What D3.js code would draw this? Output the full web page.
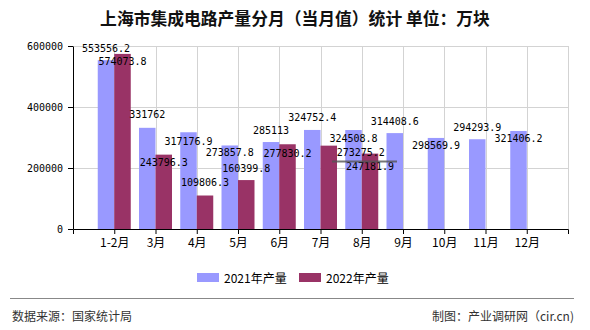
<!DOCTYPE html>
<html>
<head>
<meta charset="utf-8">
<script src="https://cdn.jsdelivr.net/npm/d3@7"></script>
<style>
html,body{margin:0;padding:0;background:#fff;}
svg{display:block;}
</style>
</head>
<body>
<svg id="chart" width="590" height="330"></svg>
<script>
// ---- data ----
const categories = ["1-2月","3月","4月","5月","6月","7月","8月","9月","10月","11月","12月"];
const values2021 = [553556.2, 331762, 317176.9, 273857.8, 285113, 324752.4, 324508.8, 314408.6, 298569.9, 294293.9, 321406.2];
const values2022 = [574073.8, 243796.3, 109806.3, 160399.8, 277830.2, 273275.2, 247181.9];
const seriesNames = ["2021年产量","2022年产量"];
const yTicks = [0, 200000, 400000, 600000];
// label placement offsets (vertical, relative to bar top; horizontal shift)
const labelDy2021 = [-12,-13,9,7,-12,-12,8,-12,8,-12,8];
const labelDy2022 = [8,8,-13,-12,9,7,13];
const labelDx2022 = [0,0,0,0,0,32,0];

(function(){
const colors = ["#9999ff", "#993366"];
const svg = d3.select("#chart");
const pL = 73, pR = 568, pT = 46, pB = 229;

const x = d3.scalePoint().domain(categories).range([pL, pR]).padding(1);
const y = d3.scaleLinear().domain([0, 600000]).range([pB, pT]);
const bw = 16.5;

// title
svg.append("text").attr("x", 295).attr("y", 18).attr("text-anchor","middle")
  .attr("dominant-baseline","central")
  .style("font-family","'Noto Sans CJK SC', sans-serif").style("font-size","16.8px").style("font-weight","bold")
  .attr("fill","#111")
  .text("上海市集成电路产量分月（当月值）统计 单位：万块");

// grid
const grid = svg.append("g").attr("stroke","#d3d3d3").attr("stroke-width",1);
yTicks.filter(d => d > 0).forEach(t => {
  grid.append("line").attr("x1", pL).attr("x2", pR).attr("y1", Math.round(y(t))+0.5).attr("y2", Math.round(y(t))+0.5);
});
categories.map(c => x(c)).concat([pR]).forEach(px => {
  grid.append("line").attr("x1", Math.round(px)+0.5).attr("x2", Math.round(px)+0.5).attr("y1", pT).attr("y2", pB);
});

// bars
svg.append("g").selectAll("rect").data(values2021).join("rect")
  .attr("x", (d,i) => x(categories[i]) - bw).attr("width", bw)
  .attr("y", d => y(d)).attr("height", d => pB - y(d)).attr("fill", colors[0]);
svg.append("g").selectAll("rect").data(values2022).join("rect")
  .attr("x", (d,i) => x(categories[i])).attr("width", bw)
  .attr("y", d => y(d)).attr("height", d => pB - y(d)).attr("fill", colors[1]);

// axes
const fontNum = "'DejaVu Sans Mono', monospace";
const yAxis = svg.append("g").attr("transform", `translate(${pL},0)`)
  .call(d3.axisLeft(y).tickValues(yTicks).tickFormat(d3.format("d")).tickSize(5).tickSizeOuter(0).tickPadding(5));
yAxis.selectAll("text").style("font-family", fontNum).style("font-size","10px").attr("fill","#000");
yAxis.selectAll("line,path").attr("stroke","#000");

const xAxis = svg.append("g").attr("transform", `translate(0,${pB})`)
  .call(d3.axisBottom(x).tickSize(5).tickSizeOuter(5).tickPadding(4));
xAxis.selectAll("text").style("font-family","'Noto Sans CJK SC', sans-serif").style("font-size","12px").attr("fill","#000");
xAxis.selectAll("line,path").attr("stroke","#000");

// value labels
const lab = svg.append("g").style("font-family", fontNum).style("font-size","10px").attr("fill","#000")
  .attr("text-anchor","middle").attr("dominant-baseline","central");
values2021.forEach((v,i) => {
  lab.append("text").attr("x", x(categories[i]) - bw/2).attr("y", y(v) + labelDy2021[i]).text(String(v));
});
values2022.forEach((v,i) => {
  lab.append("text").attr("x", x(categories[i]) + bw/2 + labelDx2022[i]).attr("y", y(v) + labelDy2022[i]).text(String(v));
});

// stray marker line (as in reference)
svg.append("line").attr("x1",332).attr("x2",397).attr("y1",161.5).attr("y2",161.5).attr("stroke","#555").attr("stroke-width",2).attr("opacity",0.8);

// legend
const lg = svg.append("g");
seriesNames.forEach((n,i) => {
  const lx = 197 + i*102;
  lg.append("rect").attr("x", lx).attr("y", 273).attr("width", 22).attr("height", 9).attr("fill", colors[i]);
  lg.append("text").attr("x", lx + 27).attr("y", 277.5).attr("dominant-baseline","central")
    .style("font-family","'Noto Sans CJK SC', sans-serif").style("font-size","12px").attr("fill","#000").text(n);
});

// footer
svg.append("line").attr("x1",10).attr("x2",574).attr("y1",298.5).attr("y2",298.5).attr("stroke","#888").attr("stroke-width",1);
svg.append("text").attr("x",12).attr("y",315).attr("dominant-baseline","central")
  .style("font-family","'Noto Sans CJK SC', sans-serif").style("font-size","12px").attr("fill","#333").text("数据来源：国家统计局");
svg.append("text").attr("x",574).attr("y",315).attr("text-anchor","end").attr("dominant-baseline","central")
  .style("font-family","'Noto Sans CJK SC', sans-serif").style("font-size","12px").attr("fill","#333").text("制图：产业调研网（cir.cn)");
})();
</script>
</body>
</html>
